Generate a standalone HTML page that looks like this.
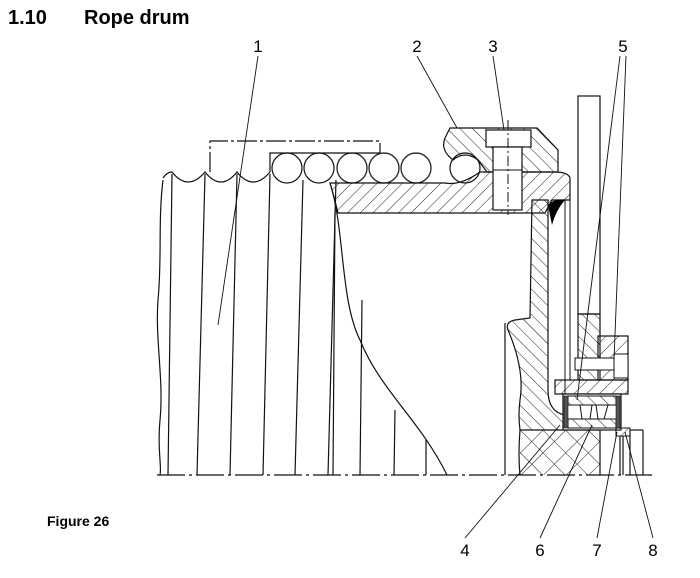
<!DOCTYPE html>
<html><head><style>
body{margin:0;background:#fff;width:700px;height:578px;overflow:hidden}
svg{position:absolute;left:0;top:0}
</style></head><body>
<svg width="700" height="578" viewBox="0 0 700 578" xmlns="http://www.w3.org/2000/svg">
<defs>
<pattern id="h" width="9" height="9" patternUnits="userSpaceOnUse" patternTransform="rotate(45)">
<line x1="0" y1="0" x2="0" y2="9" stroke="#222" stroke-width="1"/></pattern>
<pattern id="h2" width="9" height="9" patternUnits="userSpaceOnUse" patternTransform="rotate(-45)">
<line x1="0" y1="0" x2="0" y2="9" stroke="#222" stroke-width="1"/></pattern>
<pattern id="hx" width="16" height="16" patternUnits="userSpaceOnUse" patternTransform="rotate(45)">
<line x1="0" y1="0" x2="0" y2="16" stroke="#222" stroke-width="1"/><line x1="0" y1="0" x2="16" y2="0" stroke="#222" stroke-width="1"/></pattern>
</defs>
<text x="8" y="24" font-family="Liberation Sans, sans-serif" font-weight="bold" font-size="20">1.10</text>
<text x="84" y="24" font-family="Liberation Sans, sans-serif" font-weight="bold" font-size="20">Rope drum</text>
<text x="47" y="526" font-family="Liberation Sans, sans-serif" font-weight="bold" font-size="14">Figure 26</text>
<g font-family="Liberation Sans, sans-serif" font-size="17" text-anchor="middle">
<text x="258" y="52">1</text><text x="417" y="52">2</text><text x="493" y="52">3</text><text x="623" y="52">5</text>
<text x="465" y="556">4</text><text x="540" y="556">6</text><text x="597" y="556">7</text><text x="653" y="556">8</text>
</g>
<g stroke="#111" stroke-width="1.2" fill="none">
<line x1="157" y1="475" x2="652" y2="475" stroke-dasharray="28,4,3,4"/>
<polyline points="210,172 210,141 380,141 380,153" stroke-dasharray="20,3,3,3"/>
<polyline points="270,172 270,153 380,153"/>
<path d="M163,180 C158,220 162,260 158,300 C155,340 164,380 160,420 C157,450 162,465 160,475"/>
<path d="M163,178 Q167,172 172,172 Q188,192 205,172 Q221,192 237,172 Q253,192 270,172"/>
<circle cx="287" cy="168" r="15"/><circle cx="319" cy="168" r="15"/><circle cx="352" cy="168" r="15"/>
<circle cx="384" cy="168" r="15"/><circle cx="416" cy="168" r="15"/><circle cx="465" cy="168" r="15"/>
<line x1="172" y1="174" x2="168" y2="475"/><line x1="205" y1="174" x2="197" y2="475"/>
<line x1="237" y1="174" x2="230" y2="475"/><line x1="270" y1="174" x2="263" y2="475"/>
<line x1="303" y1="180" x2="295" y2="475"/><line x1="336" y1="180" x2="328" y2="475"/>
<line x1="335" y1="210" x2="333" y2="475"/>
<line x1="362" y1="300" x2="360" y2="475"/><line x1="395" y1="410" x2="394" y2="475"/>
<line x1="426" y1="440" x2="426" y2="475"/>
<path d="M330,183 C345,230 340,300 360,340 C380,390 420,420 447,475"/>
</g>
<path d="M330,183 L445,183 Q460,186 480,172 L555,172 Q568,172 570,178 L570,200 L552,200 L545,213 L338,213 Q334,196 330,183Z" fill="url(#h)" stroke="#111" stroke-width="1.2"/>
<path d="M450,128 L537,128 L558,150 L558,172 L487,172 L478,160 Q465,150 453,160 Q440,150 445,138Z" fill="url(#h2)" stroke="#111" stroke-width="1.2"/>
<rect x="486" y="130" width="45" height="17" fill="#fff" stroke="#111" stroke-width="1.2"/>
<rect x="493" y="147" width="29" height="63" fill="#fff" stroke="#111" stroke-width="1.2"/>
<line x1="493" y1="170" x2="522" y2="170" stroke="#111"/>
<line x1="508" y1="120" x2="508" y2="215" stroke="#111" stroke-dasharray="10,3,2,3"/>
<!-- hub lower crossed region -->
<path d="M520,430 L600,430 L600,475 L520,475Z" fill="url(#hx)" stroke="none"/>
<path d="M532,200 L548,200 L548,390 Q548,412 565,415 L565,430 L520,430 Q518,415 520,400 Q525,370 508,330 Q505,322 515,320 L530,318 Z" fill="url(#h2)" stroke="#111" stroke-width="1.2"/>
<path d="M520,430 Q518,455 520,475 M565,430 L600,430 L600,475" fill="none" stroke="#111" stroke-width="1.2"/>
<path d="M548,205 Q555,198 565,200 Q556,210 552,225 Z" fill="#000"/>
<line x1="505" y1="323" x2="505" y2="475" stroke="#111" stroke-width="1.2"/>
<line x1="565" y1="200" x2="565" y2="400" stroke="#111"/>
<line x1="570" y1="200" x2="570" y2="380" stroke="#111"/>
<rect x="578" y="96" width="22" height="218" fill="#fff" stroke="#111" stroke-width="1.2"/>
<rect x="578" y="314" width="22" height="66" fill="url(#h2)" stroke="#111" stroke-width="1.2"/>
<rect x="598" y="336" width="30" height="44" fill="url(#h)" stroke="#111" stroke-width="1.2"/>
<rect x="575" y="358" width="40" height="12" fill="#fff" stroke="#111"/>
<rect x="614" y="354" width="14" height="24" fill="#fff" stroke="#111"/>
<rect x="555" y="380" width="73" height="14" fill="url(#h)" stroke="#111" stroke-width="1.2"/>
<rect x="563" y="394" width="58" height="36" fill="#fff" stroke="#111" stroke-width="1.2"/>
<rect x="568" y="396" width="48" height="9" fill="url(#h2)" stroke="#111"/>
<rect x="568" y="419" width="48" height="9" fill="url(#h2)" stroke="#111"/>
<rect x="564" y="396" width="4" height="32" fill="#555" stroke="#111" stroke-width="0.6"/>
<rect x="616" y="396" width="4" height="32" fill="#555" stroke="#111" stroke-width="0.6"/>
<path d="M580,405 L592,405 L590,419 L582,419Z M596,405 L608,405 L604,419 L598,419Z" fill="none" stroke="#111"/>
<rect x="616" y="428" width="14" height="8" fill="url(#h)" stroke="#111"/>
<g stroke="#111" stroke-width="1.2">
<line x1="620" y1="436" x2="620" y2="475"/><line x1="623" y1="436" x2="623" y2="475"/>
<line x1="630" y1="430" x2="643" y2="430"/><line x1="643" y1="430" x2="643" y2="475"/>
<line x1="630" y1="430" x2="630" y2="475"/>
</g>
<g stroke="#111" stroke-width="0.9">
<line x1="258" y1="56" x2="218" y2="325"/>
<line x1="417" y1="56" x2="457" y2="128"/>
<line x1="493" y1="56" x2="504" y2="130"/>
<line x1="620" y1="56" x2="577" y2="400"/>
<line x1="626" y1="56" x2="614" y2="360"/>
<line x1="465" y1="538" x2="560" y2="425"/>
<line x1="540" y1="538" x2="592" y2="425"/>
<line x1="597" y1="538" x2="617" y2="432"/>
<line x1="653" y1="538" x2="625" y2="432"/>
</g>
</svg>
</body></html>
